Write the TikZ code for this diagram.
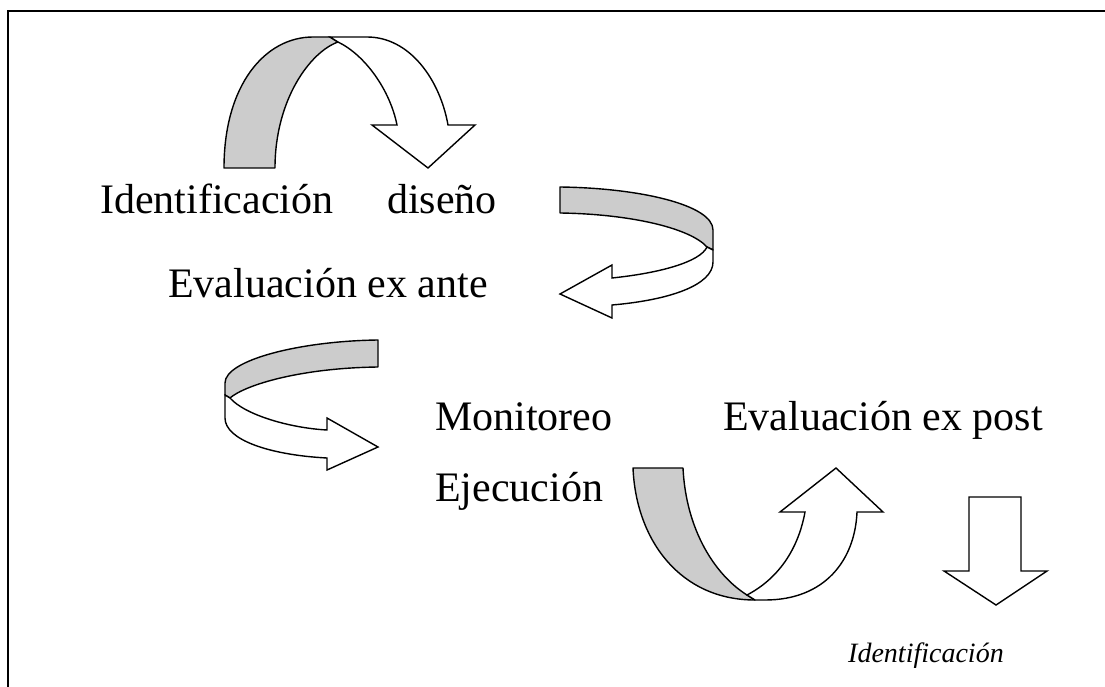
\documentclass[tikz,border=0pt]{standalone}
\usepackage{fontspec}
\setmainfont{Liberation Serif}
\usepackage{tikz}
\usetikzlibrary{positioning}

\begin{document}
\begin{tikzpicture}[x=1pt, y=-1pt,
    band/.style={draw, line width=1.4pt, line join=round, fill=gray!40},
    flap/.style={draw, line width=1.4pt, line join=miter, fill=white},
    stage/.style={anchor=base west, inner sep=0pt, font=\fontsize{42}{48}\selectfont}]
    \useasboundingbox (0,0) rectangle (1105,687);

    % Draw frame
    \draw[line width=2pt] (8,687) -- (8,11) -- (1105,11);

    % Data
    \foreach \n/\x/\y/\t in {ident/100/213/Identificación, disenio/387/213/diseño, exante/168/297/Evaluación ex ante, monit/435/430/Monitoreo, expost/723/430/Evaluación ex post, ejec/435/501/Ejecución} {
      \node[stage] (\n) at (\x,\y) {\t};
    }
    \node[anchor=base west, inner sep=0pt, font=\fontsize{28}{32}\selectfont\itshape] (again) at (848,662) {Identificación};

    % Draw arrow over the top
    \path[band] (224,168) .. controls (224,85) and (265,37) .. (313,37) -- (330,37) -- (338,42)
      .. controls (310,52) and (275,100) .. (275,168) -- cycle;
    \path[flap] (338,42) .. controls (365,55) and (390,90) .. (397,125) -- (372,125) -- (428,168)
      -- (475,125) -- (448,125) .. controls (440,80) and (410,37) .. (367,37) -- (330,37) -- cycle;

    % Draw arrow round the right
    \path[band] (560,187) .. controls (640,188) and (713,205) .. (713,230) -- (713,250) -- (707,247)
      .. controls (690,228) and (630,214) .. (560,213) -- cycle;
    \path[flap] (707,247) .. controls (700,262) and (660,273) .. (612,278) -- (612,265) -- (560,294)
      -- (612,318) -- (612,305) .. controls (670,300) and (713,285) .. (713,262) -- (713,250) -- cycle;

    % Draw arrow round the left
    \path[band] (378,340) .. controls (300,341) and (225,360) .. (225,383) -- (225,395) -- (230,398)
      .. controls (245,385) and (300,368) .. (378,367) -- cycle;
    \path[flap] (230,398) .. controls (245,415) and (290,428) .. (327,430) -- (327,418) -- (378,447)
      -- (327,470) -- (327,458) .. controls (270,455) and (225,440) .. (225,418) -- (225,395) -- cycle;

    % Draw arrow under the bottom
    \path[band] (633,468) -- (683,468) .. controls (686,530) and (715,575) .. (747,595) -- (755,600)
      .. controls (680,600) and (636,540) .. (633,468) -- cycle;
    \path[flap] (747,595) .. controls (785,575) and (800,540) .. (805,512) -- (780,512) -- (836,468)
      -- (883,512) -- (857,512) .. controls (855,560) and (825,600) .. (765,600) -- (755,600) -- cycle;

    % Draw arrow down
    \path[flap] (969,497) -- (969,571) -- (944,571) -- (996,605) -- (1047,571) -- (1021,571) -- (1021,497) -- cycle;

\end{tikzpicture}
\end{document}
